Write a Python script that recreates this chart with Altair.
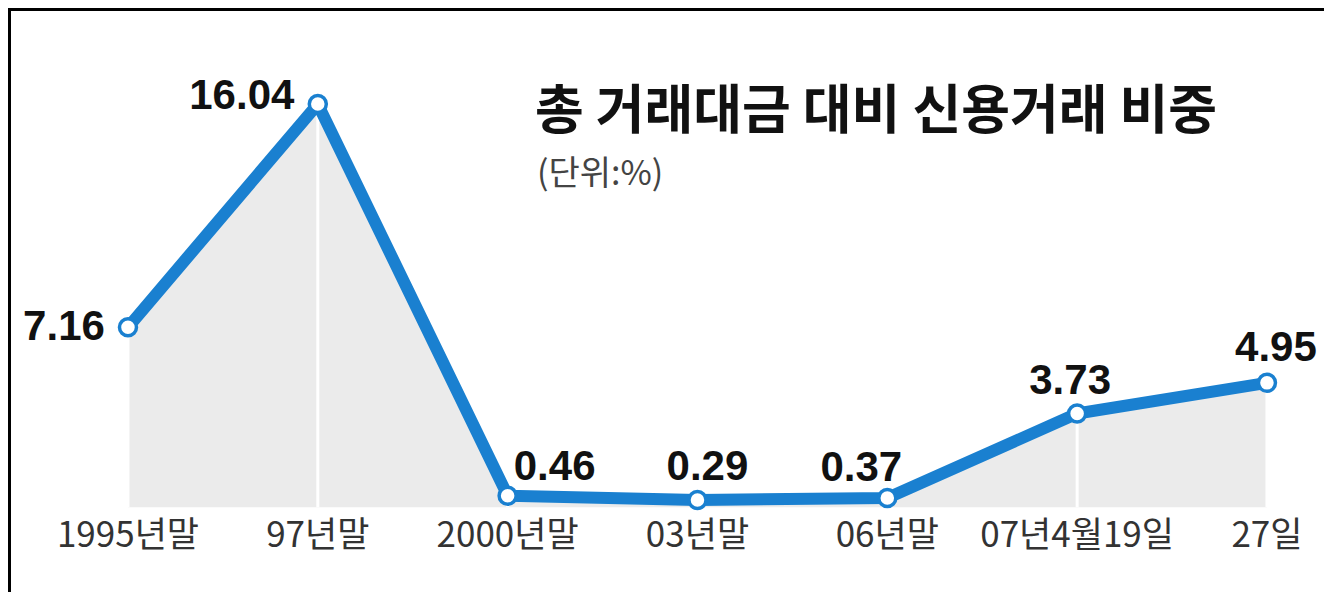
import altair as alt
import pandas as pd

# ---- data ----
categories = ["1995년말", "97년말", "2000년말", "03년말", "06년말", "07년4월19일", "27일"]
values = [7.16, 16.04, 0.46, 0.29, 0.37, 3.73, 4.95]
title_text = "총 거래대금 대비 신용거래 비중"
unit_text = "(단위:%)"

df = pd.DataFrame({"idx": list(range(len(categories))), "cat": categories, "val": values})
df["zero"] = 0.0

W, H = 1316, 584
BLUE = "#1a80d0"

xs = alt.Scale(domain=[-0.632, 6.3005], nice=False, zero=False)
ys = alt.Scale(domain=[-3.369, 19.86], nice=False, zero=False)
X = alt.X("idx:Q", scale=xs, axis=None)
Y = alt.Y("val:Q", scale=ys, axis=None)

base = alt.Chart(df)

area = base.mark_area(color="#ebebeb").encode(x=X, y=Y, y2="zero:Q")
seps = base.mark_rule(color="white", strokeWidth=3).encode(x=X, y=Y, y2="zero:Q")
line = base.mark_line(color=BLUE, strokeWidth=12, strokeCap="round", strokeJoin="round").encode(x=X, y=Y)
pts = base.mark_point(filled=True, fill="white", stroke=BLUE, strokeWidth=3.5, size=290, opacity=1, shape="circle").encode(x=X, y=Y)

xlabels = base.mark_text(font="Noto Sans CJK KR", fontSize=35, color="#333333", baseline="middle", dy=29).encode(
    x=X, y=alt.Y("zero:Q", scale=ys, axis=None), text="cat:N"
)

# label offsets (dx, dy) relative to each point
label_offsets = {0: (-64, 0), 1: (-76, -8), 2: (47, -29), 3: (10, -33), 4: (-26, -30), 5: (-7, -33), 6: (9, -35)}
label_layers = []
for i, (ddx, ddy) in label_offsets.items():
    label_layers.append(
        base.transform_filter(alt.datum.idx == i)
        .mark_text(font="Liberation Sans", fontWeight="bold", fontSize=42, color="#111111", baseline="middle", dx=ddx, dy=ddy)
        .encode(x=X, y=Y, text=alt.Text("val:Q", format=".2f"))
    )

title_df = pd.DataFrame({"t": [title_text]})
unit_df = pd.DataFrame({"t": [unit_text]})
title = alt.Chart(title_df).mark_text(font="Noto Sans CJK KR", fontWeight="bold", fontSize=53, color="#111111", align="left", baseline="middle").encode(
    x=alt.value(527), y=alt.value(105), text="t:N"
)
unit = alt.Chart(unit_df).mark_text(font="Noto Sans CJK KR", fontSize=34, color="#444444", align="left", baseline="middle").encode(
    x=alt.value(529), y=alt.value(167), text="t:N"
)

border_l = alt.Chart(title_df).mark_rule(color="black", strokeWidth=3).encode(x=alt.value(1.5), y=alt.value(0), y2=alt.value(H))
border_t = alt.Chart(title_df).mark_rule(color="black", strokeWidth=3).encode(x=alt.value(0), x2=alt.value(W), y=alt.value(1.5))

chart = alt.layer(area, seps, line, pts, xlabels, *label_layers, title, unit, border_l, border_t).properties(
    width=W, height=H, autosize="none", padding=0, background="white"
).configure_view(strokeWidth=0)

chart.save("out.html", embed_options={"renderer": "svg", "actions": False})
